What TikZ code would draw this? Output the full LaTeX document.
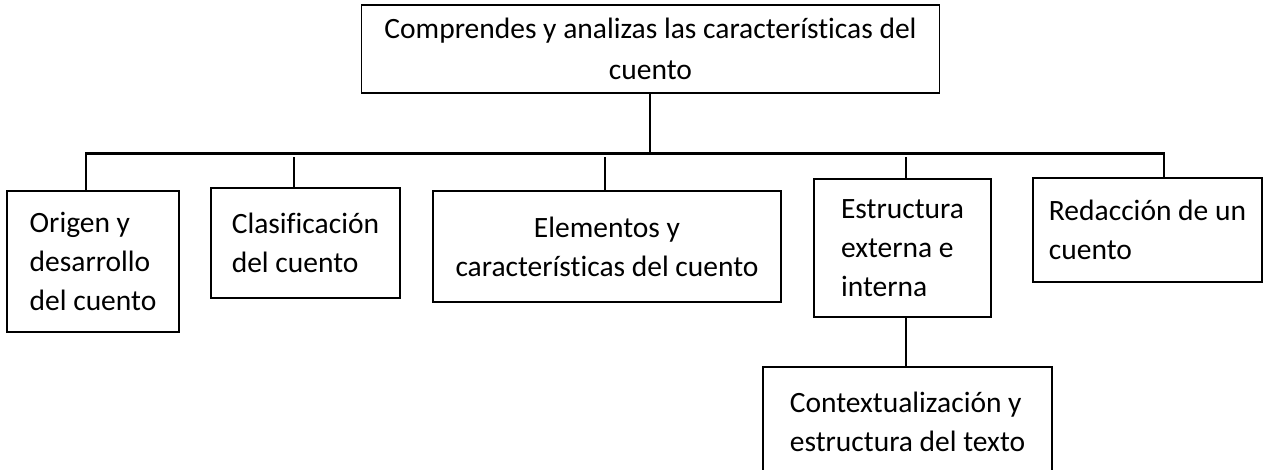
\documentclass[tikz,border=0pt]{standalone}
\usepackage{fontspec}
\setmainfont{Carlito}[RawFeature={-liga;-clig;-calt;-dlig}]
\begin{document}
\begin{tikzpicture}[x=1pt,y=-1pt,
  box/.style={draw=black,line width=1.3pt,inner sep=0pt,font=\fontsize{29.5}{39}\selectfont},
  conn/.style={draw=black,line width=2.8pt}]
\useasboundingbox (0,0) rectangle (1269,469);
\node[box,minimum width=578pt,minimum height=88pt,align=center] (top) at (650.5,49) {Comprendes y analizas las características del\\[2pt]cuento};
\node[box,minimum width=172pt,minimum height=141pt,align=left] (b1) at (93,261.5) {Origen y\\desarrollo\\del cuento};
\node[box,minimum width=189pt,minimum height=110pt,align=left] (b2) at (305.5,243) {Clasificación\\del cuento};
\node[box,minimum width=348pt,minimum height=111pt,align=center] (b3) at (607,246.5) {Elementos y\\características del cuento};
\node[box,minimum width=177pt,minimum height=138pt,align=left] (b4) at (902.5,248) {Estructura\\externa e\\interna};
\node[box,minimum width=229pt,minimum height=104pt,align=left] (b5) at (1147.5,230) {Redacción de un\\cuento};
\node[box,minimum width=289pt,minimum height=110pt,align=left] (b6) at (907.5,422) {Contextualización y\\estructura del texto};
\coordinate (hub) at (650,153.5);
\coordinate (busL) at (86,153.5);
\coordinate (busR) at (1164,153.5);
\coordinate (t2) at (294,157);
\coordinate (t3) at (605,157);
\coordinate (t4) at (906,157);
\coordinate (t6) at (906,0);
\draw[conn] (top.south -| hub) -- (hub);
\draw[conn] (busL |- b1.north) -- (busL) -- (busR) -- (busR |- b5.north);
\draw[conn] (t2) -- (t2 |- b2.north);
\draw[conn] (t3) -- (t3 |- b3.north);
\draw[conn] (t4) -- (t4 |- b4.north);
\draw[conn] (t6 |- b4.south) -- (t6 |- b6.north);
\end{tikzpicture}
\end{document}
